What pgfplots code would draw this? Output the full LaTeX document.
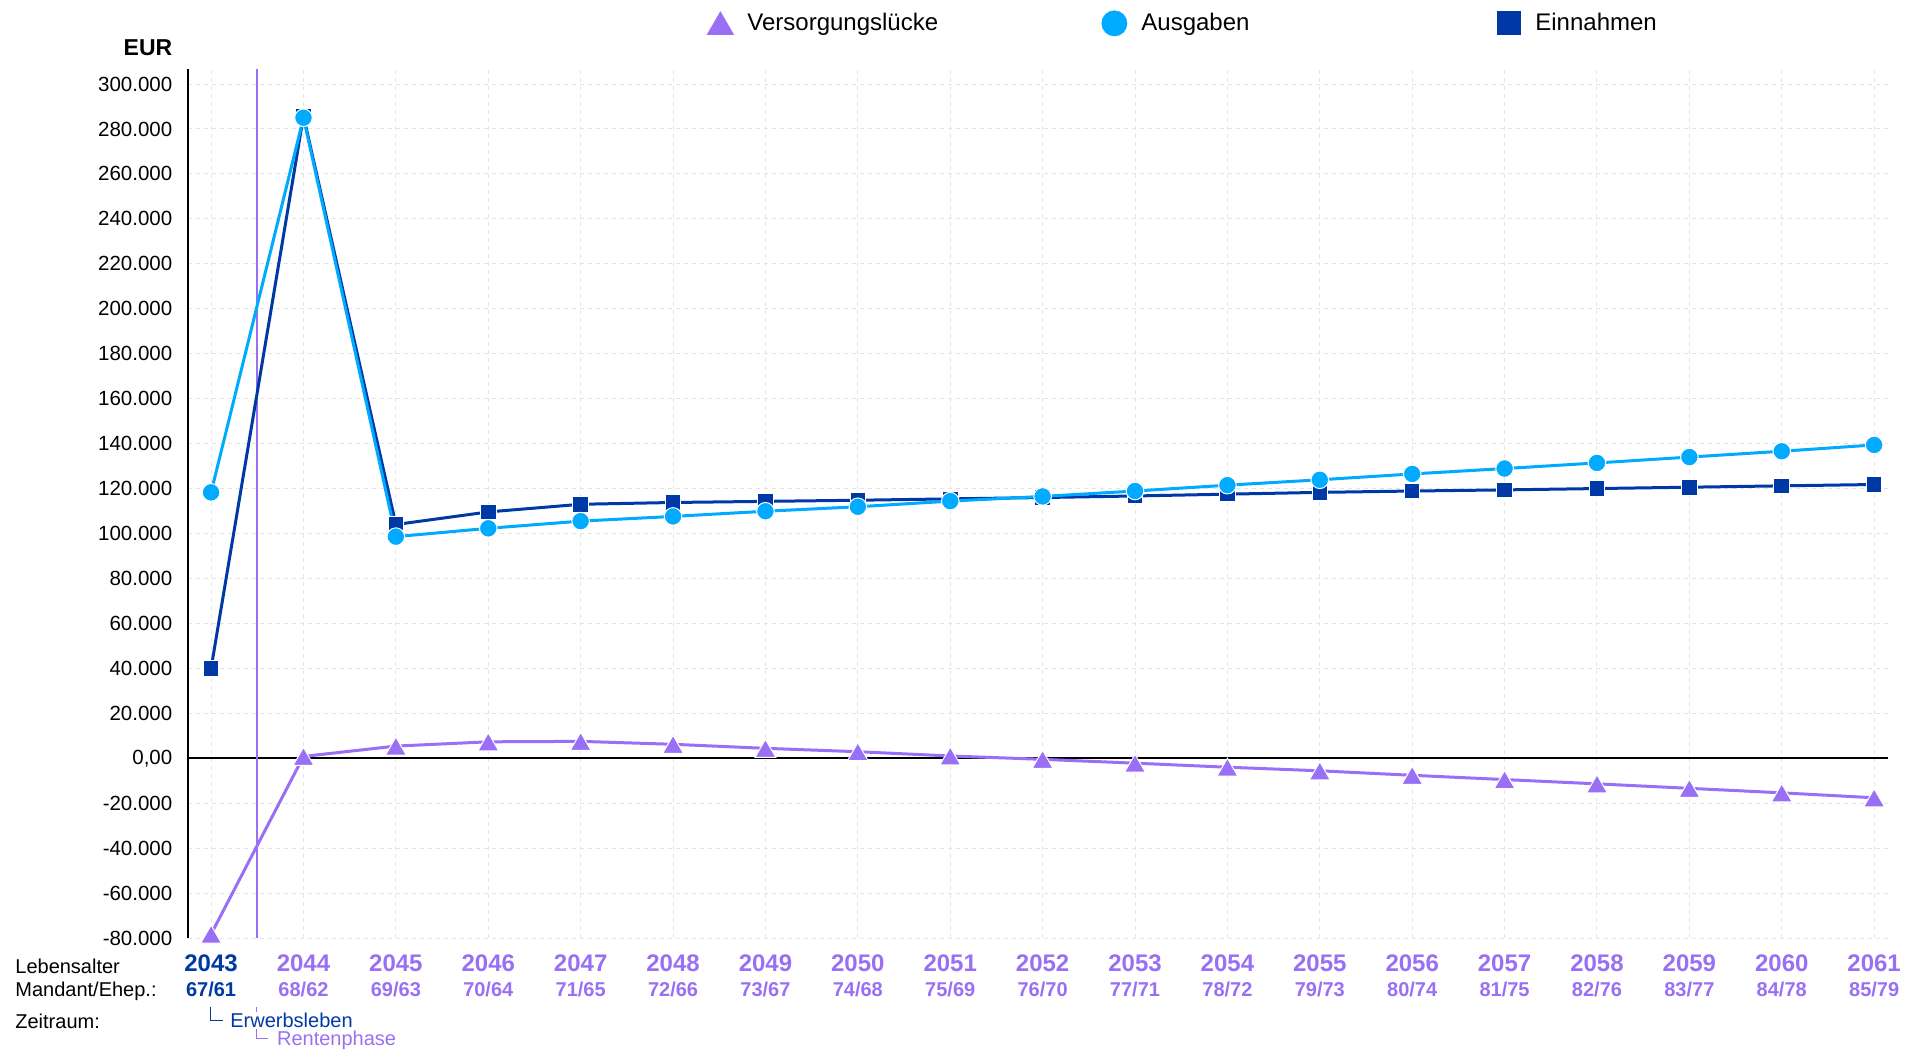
\documentclass[border=0pt]{standalone}
\usepackage{fontspec}
\setmainfont{Liberation Sans}
\usepackage{pgfplots}
\usepackage{pgfplotstable}
\pgfplotsset{compat=1.18}
\definecolor{vers}{RGB}{153,112,245}
\definecolor{ausg}{RGB}{0,170,255}
\definecolor{einn}{RGB}{0,57,166}
\definecolor{gridc}{RGB}{228,228,228}

\newcommand{\yl}[3]{\textcolor{#1}{\textbf{#2}}\\\textcolor{#1}{\fontsize{10}{12.5}\selectfont\textbf{#3}}}

\pgfplotstableread{
x E A V
0 40000 118300 -78300
1 285800 285000 800
2 104000 98600 5400
3 109600 102300 7300
4 113000 105500 7500
5 113800 107600 6200
6 114300 109900 4400
7 114800 111900 2900
8 115400 114400 1000
9 116000 116500 -500
10 116700 118900 -2200
11 117500 121500 -4000
12 118300 123900 -5600
13 118900 126500 -7600
14 119400 128900 -9500
15 120000 131400 -11400
16 120600 134000 -13400
17 121200 136600 -15400
18 121800 139400 -17600
}\data

\begin{document}
\begin{tikzpicture}
\path[use as bounding box] (-94pt,-56pt) rectangle (866.5pt,469pt);
\begin{axis}[
 scale only axis, width=850pt, height=434.5pt,
 xmin=-0.25, xmax=18.15, ymin=-80000, ymax=306700,
 clip=false,
 axis x line*=bottom, axis y line*=left,
 x axis line style={draw=none},
 y axis line style={black, line width=1pt},
 tick style={draw=none},
 grid=major,
 major grid style={gridc, dash pattern=on 2pt off 2pt, line width=0.5pt},
 xtick={0,...,18},
 xticklabels={
  {\yl{einn}{2043}{67/61}},{\yl{vers}{2044}{68/62}},{\yl{vers}{2045}{69/63}},
  {\yl{vers}{2046}{70/64}},{\yl{vers}{2047}{71/65}},{\yl{vers}{2048}{72/66}},
  {\yl{vers}{2049}{73/67}},{\yl{vers}{2050}{74/68}},{\yl{vers}{2051}{75/69}},
  {\yl{vers}{2052}{76/70}},{\yl{vers}{2053}{77/71}},{\yl{vers}{2054}{78/72}},
  {\yl{vers}{2055}{79/73}},{\yl{vers}{2056}{80/74}},{\yl{vers}{2057}{81/75}},
  {\yl{vers}{2058}{82/76}},{\yl{vers}{2059}{83/77}},{\yl{vers}{2060}{84/78}},
  {\yl{vers}{2061}{85/79}}},
 xticklabel style={anchor=north, inner sep=0pt, yshift=-8.3pt, align=center, font=\fontsize{12}{12.5}\selectfont},
 ytick={-80000,-60000,...,300000},
 yticklabels={-80.000,-60.000,-40.000,-20.000,{0,00},20.000,40.000,60.000,80.000,100.000,120.000,140.000,160.000,180.000,200.000,220.000,240.000,260.000,280.000,300.000},
 scaled y ticks=false,
 yticklabel style={anchor=east, inner sep=0pt, xshift=-7.65pt, font=\fontsize{10.25}{12}\selectfont},
 legend columns=3,
 legend style={at={(0.3047,1.0525)}, anchor=west, draw=none, fill=none, inner sep=0pt,
   font=\fontsize{12}{13.5}\selectfont, nodes={inner sep=0pt},
   /tikz/every odd column/.style={column sep=6.5pt},
   /tikz/every even column/.style={column sep=0pt}},
 legend image code/.code={\path[draw=none, fill=none] (-7pt,-7pt) rectangle (7pt,7pt); \draw[#1] plot coordinates {(0pt,0pt)};},
]
\addplot[black, line width=1pt, forget plot] coordinates {(-0.25,0) (18.15,0)};
\addplot[vers, line width=0.8pt, forget plot] coordinates {(0.5,-80000) (0.5,306700)};

\addplot[einn, line width=1.5pt, mark=square*, mark size=3.9pt, mark options={fill=einn, draw=white, line width=0.5pt}, forget plot] table[x=x, y=E] {\data};
\addplot[ausg, line width=1.5pt, mark=*, mark size=4.4pt, mark options={fill=ausg, draw=white, line width=0.5pt}, forget plot] table[x=x, y=A] {\data};
\addplot[vers, line width=1.5pt, mark=triangle*, mark size=6pt, mark options={fill=vers, draw=white, line width=0.5pt, yshift=-1.5pt}, forget plot] table[x=x, y=V] {\data};

\addlegendimage{only marks, mark=triangle*, mark size=7.5pt, mark options={fill=vers, draw=vers, yshift=-1.8pt}}
\addlegendentry{\makebox[176.5pt][l]{Versorgungslücke}}
\addlegendimage{only marks, mark=*, mark size=6.25pt, mark options={fill=ausg, draw=ausg}}
\addlegendentry{\makebox[176.5pt][l]{Ausgaben}}
\addlegendimage{only marks, mark=square*, mark size=5.75pt, mark options={fill=einn, draw=einn}}
\addlegendentry{\makebox[100pt][l]{Einnahmen}}
\end{axis}

\node[anchor=base west, inner sep=0pt, font=\fontsize{10}{12}\selectfont] at (-86.5pt,-17.5pt) {Lebensalter};
\node[anchor=base west, inner sep=0pt, font=\fontsize{10}{12}\selectfont] at (-86.5pt,-29.35pt) {Mandant/Ehep.:};
\node[anchor=base west, inner sep=0pt, font=\fontsize{10}{12}\selectfont] at (-86.5pt,-45pt) {Zeitraum:};
\draw[vers, line width=0.5pt] (34.35pt,-34.5pt) -- (34.35pt,-50pt) -- (40pt,-50pt);
\node[anchor=base west, fill=white, inner sep=0.6pt, text=einn, font=\fontsize{10}{12}\selectfont] at (20.4pt,-44.85pt) {Erwerbsleben};
\draw[einn, line width=0.5pt] (11pt,-34.5pt) -- (11pt,-41.35pt) -- (17.35pt,-41.35pt);
\node[anchor=base west, inner sep=0pt, text=vers, font=\fontsize{10}{12}\selectfont] at (44.35pt,-53.85pt) {Rentenphase};
\node[anchor=base east, inner sep=0pt, font=\bfseries\fontsize{11.5}{13}\selectfont] at (-7.65pt,441pt) {EUR};
\end{tikzpicture}
\end{document}
